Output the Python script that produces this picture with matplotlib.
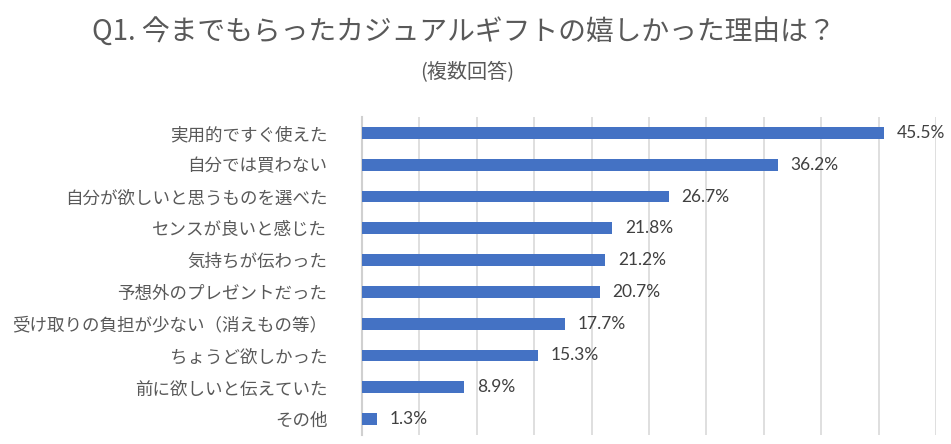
import matplotlib
matplotlib.use("Agg")
import matplotlib.pyplot as plt

plt.rcParams['font.family'] = ['Noto Sans CJK JP', 'DejaVu Sans']

categories = [
    "実用的ですぐ使えた",
    "自分では買わない",
    "自分が欲しいと思うものを選べた",
    "センスが良いと感じた",
    "気持ちが伝わった",
    "予想外のプレゼントだった",
    "受け取りの負担が少ない（消えもの等）",
    "ちょうど欲しかった",
    "前に欲しいと伝えていた",
    "その他",
]
values = [45.5, 36.2, 26.7, 21.8, 21.2, 20.7, 17.7, 15.3, 8.9, 1.3]
title = "Q1. 今までもらったカジュアルギフトの嬉しかった理由は？"
subtitle = "(複数回答)"

fig = plt.figure(figsize=(9.51, 4.44), dpi=100)
ax = fig.add_axes([362/951, 1-435/444, (936-362)/951, (435-117)/444])

y = list(range(len(categories)))
ax.barh(y, values, height=0.37, color="#4472C4", zorder=3)
ax.set_ylim(len(categories) - 0.5, -0.5)
ax.set_xlim(0, 50)
ax.set_xticks(range(0, 51, 5))
ax.xaxis.grid(True, color="#d9d9d9", linewidth=1.2, zorder=0)
ax.tick_params(axis='x', length=0, labelbottom=False)
ax.tick_params(axis='y', length=0, pad=25)
ax.set_yticks(y)
ax.set_yticklabels(categories, fontsize=12.6, color="#595959")
for s in ["top", "right", "bottom"]:
    ax.spines[s].set_visible(False)
ax.spines["left"].set_color("#d0d0d0")
ax.spines["left"].set_linewidth(1.5)

for yi, v in zip(y, values):
    ax.annotate(f"{v:.1f}%", xy=(v, yi), xytext=(9, 0), textcoords="offset points",
                va="center", ha="left", fontsize=12.5, color="#404040",
                family=["Lato", "DejaVu Sans"])

fig.text(464/951, 1-33/444, title, ha="center", va="center", fontsize=20, color="#595959")
fig.text(467/951, 1-73/444, subtitle, ha="center", va="center", fontsize=14.5, color="#595959")

fig.savefig("out.png", dpi=100)
